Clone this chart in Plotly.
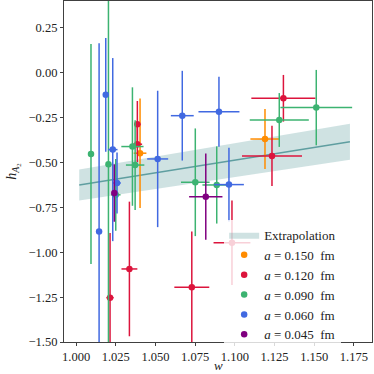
import plotly.graph_objects as go

# extrapolation band
fit_w = [1.002, 1.1725]
fit_h = [-0.625, -0.384]
fit_err = [0.086, 0.100]

# lattice data per spacing: w, h, w error, h error
w_150 = [1.0403, 1.1190]
h_150 = [-0.448, -0.369]
dw_150 = [0.0040, 0.0092]
dh_150 = [0.305, 0.167]

w_120 = [1.0214, 1.0336, 1.0386, 1.0386, 1.0729, 1.0982, 1.1234, 1.1306]
h_120 = [-1.253, -1.093, -0.287, -0.398, -1.195, -0.947, -0.463, -0.142]
dw_120 = [0.0023, 0.0050, 0.0020, 0.0030, 0.0110, 0.0116, 0.0189, 0.0202]
dh_120 = [0.360, 0.375, 0.130, 0.100, 0.310, 0.235, 0.168, 0.130]

w_090 = [1.0094, 1.0204, 1.0250, 1.0355, 1.0372, 1.0751, 1.0886, 1.1280, 1.1513]
h_090 = [-0.452, -0.510, -0.680, -0.411, -0.514, -0.610, -0.625, -0.263, -0.194]
dw_090 = [0.0010, 0.0010, 0.0030, 0.0070, 0.0058, 0.0090, 0.0090, 0.0186, 0.0226]
dh_090 = [0.613, 1.050, 0.200, 0.330, 0.250, 0.300, 0.215, 0.150, 0.210]

w_060 = [1.0145, 1.0187, 1.0231, 1.0258, 1.0514, 1.0669, 1.0900, 1.0963]
h_060 = [-0.885, -0.123, -0.428, -0.614, -0.480, -0.239, -0.217, -0.623]
dw_060 = [0.0010, 0.0010, 0.0030, 0.0024, 0.0066, 0.0072, 0.0129, 0.0094]
dh_060 = [1.050, 0.317, 0.510, 0.170, 0.380, 0.250, 0.195, 0.205]

w_045 = [1.0241, 1.0817]
h_045 = [-0.670, -0.690]
dw_045 = [0.0010, 0.0105]
dh_045 = [0.160, 0.240]

series = [
    ("0.150", "#ff8c00", w_150, h_150, dw_150, dh_150),
    ("0.120", "#dc143c", w_120, h_120, dw_120, dh_120),
    ("0.090", "#3cb371", w_090, h_090, dw_090, dh_090),
    ("0.060", "#4169e1", w_060, h_060, dw_060, dh_060),
    ("0.045", "#800080", w_045, h_045, dw_045, dh_045),
]

FONT = "Liberation Serif"

fig = go.Figure()

upper = [h + e for h, e in zip(fit_h, fit_err)]
lower = [h - e for h, e in zip(fit_h, fit_err)]
fig.add_trace(go.Scatter(
    x=fit_w + fit_w[::-1],
    y=upper + lower[::-1],
    fill="toself",
    fillcolor="rgba(95,158,160,0.3)",
    line=dict(width=0),
    mode="lines",
    name="Extrapolation",
    hoverinfo="skip",
))
fig.add_trace(go.Scatter(
    x=fit_w, y=fit_h, mode="lines",
    line=dict(color="#5f9ea0", width=1.5),
    showlegend=False,
))

for label, color, w, h, dw, dh in series:
    fig.add_trace(go.Scatter(
        x=w, y=h, mode="markers",
        name=f"<i>a</i> = {label}  fm",
        marker=dict(color=color, size=6.5),
        error_x=dict(type="data", array=dw, color=color, thickness=1.5, width=0),
        error_y=dict(type="data", array=dh, color=color, thickness=1.5, width=0),
    ))

axis_common = dict(
    showgrid=False, zeroline=False, automargin=False,
    showline=True, linecolor="#404040", linewidth=1.2, mirror=True,
    ticks="outside", ticklen=3, tickcolor="#404040",
    tickfont=dict(family=FONT, size=12.5, color="#222"),
)

fig.update_layout(
    width=374, height=374,
    margin=dict(l=64, r=2, t=1, b=32),
    plot_bgcolor="white", paper_bgcolor="white",
    font=dict(family=FONT, size=12, color="#222"),
    xaxis=dict(
        range=[0.9924, 1.1864],
        tickvals=[1.0, 1.025, 1.05, 1.075, 1.1, 1.125, 1.15, 1.175],
        tickformat=".3f",
        **axis_common,
    ),
    yaxis=dict(
        range=[-1.5, 0.40],
        tickvals=[-1.5, -1.25, -1.0, -0.75, -0.5, -0.25, 0.0, 0.25],
        tickformat=".2f",
        title=dict(text="<i>h</i><sub><i>A</i><sub>2</sub></sub>",
                   font=dict(family=FONT, size=14), standoff=8),
        **axis_common,
    ),
    legend=dict(
        x=0.52, y=0.358, xanchor="left", yanchor="top",
        bgcolor="rgba(255,255,255,0.8)",
        font=dict(family=FONT, size=13),
        tracegroupgap=0,
    ),
)

# x title as an annotation, pinned to the bottom edge below the tick labels
fig.add_annotation(
    text="<i>w</i>", xref="paper", yref="paper", x=0.5, y=0,
    xanchor="center", yanchor="bottom", yshift=-31.5, borderpad=0, showarrow=False,
    font=dict(family=FONT, size=13, color="#222"),
)

# drop the default page margin so the figure sits at the window's corner
fig.write_html("out.html", config={"displayModeBar": False},
               post_script="document.body.style.margin='0';")
